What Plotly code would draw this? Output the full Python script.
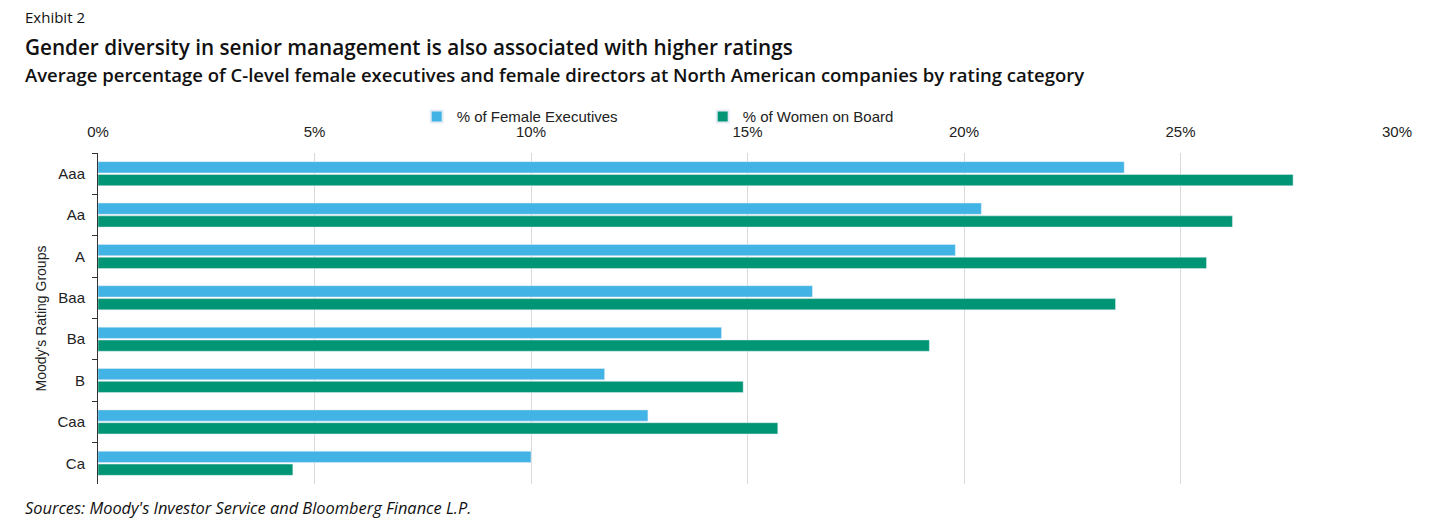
import plotly.graph_objects as go

categories = ["Aaa", "Aa", "A", "Baa", "Ba", "B", "Caa", "Ca"]
female_execs = [0.237, 0.204, 0.198, 0.165, 0.144, 0.117, 0.127, 0.100]
women_board = [0.276, 0.262, 0.256, 0.235, 0.192, 0.149, 0.157, 0.045]
x_ticks = [0, 0.05, 0.10, 0.15, 0.20, 0.25, 0.30]
x_tick_labels = ["0%", "5%", "10%", "15%", "20%", "25%", "30%"]

fig = go.Figure()
fig.add_trace(go.Bar(y=categories, x=female_execs, orientation="h",
                     name="% of Female Executives", marker_color="#41B3E5"))
fig.add_trace(go.Bar(y=categories, x=women_board, orientation="h",
                     name="% of Women on Board", marker_color="#009574"))

fig.update_layout(
    width=1450, height=530,
    margin=dict(l=90, r=61, t=145, b=54),
    paper_bgcolor="white", plot_bgcolor="white",
    barmode="group", bargap=0.38, bargroupgap=0.12,
    font=dict(family="Liberation Sans, Arial", size=15, color="#222"),
    showlegend=True,
    legend=dict(orientation="h", x=0.4655, xanchor="center", y=0.795, yanchor="middle",
                yref="container", font=dict(size=15), entrywidth=241,
                bgcolor="rgba(0,0,0,0)",
                itemsizing="constant", traceorder="normal"),
)

fig.update_xaxes(side="top", range=[0, 0.3], tickvals=x_ticks, ticktext=x_tick_labels,
                 showgrid=True, gridcolor="#d9d9d9", gridwidth=1, zeroline=False,
                 showline=False, ticks="outside", ticklen=9, tickcolor="rgba(0,0,0,0)",
                 tickfont=dict(size=15), automargin=False)
fig.update_yaxes(autorange="reversed", showline=True, linecolor="#333", linewidth=1,
                 ticks="outside", tickson="boundaries", ticklen=5, tickcolor="#333",
                 showgrid=False, tickfont=dict(size=15), automargin=False,
                 ticklabelstandoff=9,
                 title=dict(text="Moody's Rating Groups", font=dict(size=14), standoff=7))

X0 = -0.0575
fig.add_annotation(text="Exhibit 2", xref="paper", yref="paper", x=X0, y=1.0,
                   xanchor="left", yanchor="middle", showarrow=False,
                   yshift=136, font=dict(family="Open Sans", size=15, color="#111"))
fig.add_annotation(text="Gender diversity in senior management is also associated with higher ratings",
                   xref="paper", yref="paper", x=X0, y=1.0, xanchor="left", yanchor="middle",
                   showarrow=False, yshift=106,
                   font=dict(family="Open Sans", size=20.7, color="#111", weight=600))
fig.add_annotation(text="Average percentage of C-level female executives and female directors at North American companies by rating category",
                   xref="paper", yref="paper", x=X0, y=1.0, xanchor="left", yanchor="middle",
                   showarrow=False, yshift=79,
                   font=dict(family="Open Sans", size=18.5, color="#111", weight=600))
fig.add_annotation(text="<i>Sources: Moody's Investor Service and Bloomberg Finance L.P.</i>",
                   xref="paper", yref="paper", x=X0, y=0, xanchor="left", yanchor="middle",
                   showarrow=False, yshift=-23,
                   font=dict(family="Open Sans", size=16.4, color="#111"))

fig.write_html("out.html")
